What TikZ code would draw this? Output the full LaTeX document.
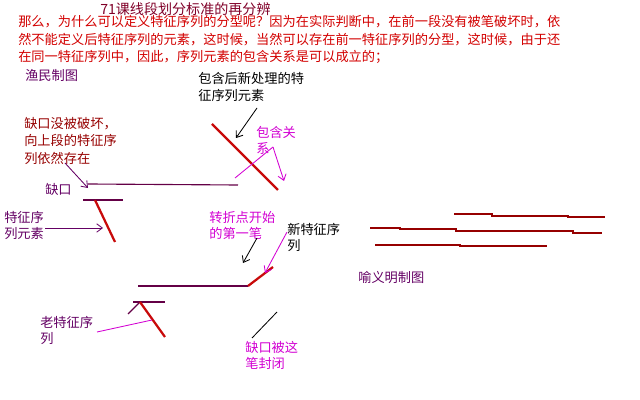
\documentclass[tikz,border=0pt]{standalone}
\usepackage{fontspec}
\setmainfont{Noto Sans CJK SC}
\usetikzlibrary{arrows.meta, positioning, calc}

\definecolor{txtred}{RGB}{210,0,0}
\definecolor{darkred}{RGB}{150,0,0}
\definecolor{titlered}{RGB}{128,0,40}
\definecolor{plum}{RGB}{100,0,100}
\definecolor{pink}{RGB}{210,0,210}
\definecolor{segline}{RGB}{100,0,70}
\definecolor{bired}{RGB}{200,10,10}

\begin{document}
\begin{tikzpicture}[x=0.025cm, y=-0.025cm,
    lbl/.style={anchor=north west, inner sep=0pt, align=left,
                font=\fontsize{9.4}{11.2}\selectfont},
    seg/.style={draw=segline, line width=0.8pt},
    bi/.style={draw=bired, line width=1.6pt},
    pointer/.style={line width=0.6pt, -{Straight Barb[length=4pt,width=6pt]}},
    wave/.style={draw=darkred, line width=0.8pt}
]
\useasboundingbox (0,0) rectangle (640,400);

% heading and explanation
\node[lbl, titlered, font=\fontsize{10}{12}\selectfont] (title) at (100,2) {71课线段划分标准的再分辨};
\node[lbl, txtred, font=\fontsize{9.4}{12.6}\selectfont] (para) at (18,15)
  {那么，为什么可以定义特征序列的分型呢？因为在实际判断中，在前一段没有被笔破坏时，依\\
   然不能定义后特征序列的元素，这时候，当然可以存在前一特征序列的分型，这时候，由于还\\
   在同一特征序列中，因此，序列元素的包含关系是可以成立的；};

% left picture
\node[lbl, plum] (yumin) at (25,69) {渔民制图};
\node[lbl, font=\fontsize{9.4}{12}\selectfont] (newelem) at (198,72) {包含后新处理的特\\征序列元素};
\node[lbl, darkred, font=\fontsize{9.4}{12.4}\selectfont] (intact) at (24,117) {缺口没被破坏，\\向上段的特征序\\列依然存在};
\node[lbl, pink] (incl) at (256,126) {包含关\\系};
\node[lbl, plum] (gap) at (45,183) {缺口};
\node[lbl, plum] (featelem) at (4,211) {特征序\\列元素};
\node[lbl, pink] (turn) at (209,211) {转折点开始\\的第一笔};
\node[lbl] (newseq) at (287,223) {新特征序\\列};
\node[lbl, plum] (oldseq) at (40,316) {老特征序\\列};
\node[lbl, pink] (closed) at (245,341) {缺口被这\\笔封闭};

\coordinate (gapL) at (88,184);
\coordinate (gapR) at (238,185);
\coordinate (upA) at (83,200);
\coordinate (upB) at (123,200);
\coordinate (upTop) at (95,200);
\coordinate (upEnd) at (115,242);
\coordinate (bigTop) at (212,124);
\coordinate (bigEnd) at (278,190);
\coordinate (lowL) at (138,286);
\coordinate (turnPt) at (248,286);
\coordinate (firstBi) at (273,267);
\coordinate (oldA) at (133,302);
\coordinate (oldB) at (165,302);
\coordinate (oldTop) at (140,302);
\coordinate (oldTail) at (128,314);
\coordinate (oldEnd) at (165,337);

\draw[seg] (gapL) -- (gapR);
\draw[seg] (upA) -- (upB);
\draw[bi] (upTop) -- (upEnd);
\draw[bi] (bigTop) -- (bigEnd);
\draw[seg] (lowL) -- (turnPt);
\draw[bi] (turnPt) -- (firstBi);
\draw[seg] (oldA) -- (oldB);
\draw[seg] (oldTop) -- (oldTail);
\draw[bi] (oldTop) -- (oldEnd);

% pointers from the labels
\coordinate (newelemTip) at (236,138);
\coordinate (inclTip) at (284,181);
\coordinate (inclEnd) at (235,178);
\coordinate (gapTip) at (88,188);
\coordinate (featTip) at (103,228);
\coordinate (turnTip) at (243,263);
\coordinate (newseqTip) at (265,273);
\coordinate (oldseqTip) at (152,320);
\coordinate (closedTip) at (277,312);

\draw[pointer] (257,108) -- (newelemTip);
\draw[pink, line width=0.6pt] (273,147) -- (inclEnd);
\draw[pointer, pink] (273,147) -- (inclTip);
\draw[pointer, plum] (65,163) -- (gapTip);
\draw[pointer, plum] (45,228) -- (featTip);
\draw[pointer] (257,238) -- (turnTip);
\draw[pointer, pink] (287,232) -- (newseqTip);
\draw[pink, line width=0.6pt] (97,332) -- (oldseqTip);
\draw[line width=0.6pt] (252,338) -- (closedTip);

% right picture
\node[lbl, plum] (yuyi) at (358,271) {喻义明制图};
\draw[wave] (454,214) -- (492,214) -- (492,216) -- (568,216) -- (568,217) -- (605,217);
\draw[wave] (370,228) -- (400,228) -- (400,229) -- (456,229) -- (456,231)
            -- (573,231) -- (573,233) -- (602,233);
\draw[wave] (375,245) -- (460,245) -- (460,246) -- (547,246);
\end{tikzpicture}
\end{document}
